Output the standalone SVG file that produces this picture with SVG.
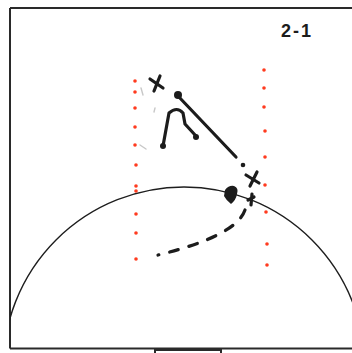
<svg xmlns="http://www.w3.org/2000/svg" width="352" height="353" viewBox="0 0 352 353">
<defs>
<style>
.frame{fill:none;stroke:#2a2a2a;stroke-width:2}
.court{fill:none;stroke:#1e1e1e;stroke-width:1.4}
.red{fill:#ff3b1f}
.ink{fill:none;stroke:#1c1c1c;stroke-width:3.2;stroke-linecap:round;stroke-linejoin:round}
.dot{fill:#1c1c1c}
.faint{fill:none;stroke:#c8c8c8;stroke-width:1.4;stroke-linecap:round}
.label{font-family:"Liberation Sans",Arial,sans-serif;font-size:18px;font-weight:bold;fill:#1c1c1c;letter-spacing:2px}
</style>
<clipPath id="box"><rect x="10" y="8" width="342" height="340.5"/></clipPath>
</defs>
<rect width="352" height="353" fill="#ffffff"/>
<g id="court">
<path class="frame" d="M10,8 H352 M10,8 V348.5 M10,348.5 H352"/>
<path class="frame" d="M155,353 V350 H221 V353"/>
<circle class="court" cx="184" cy="368" r="181" clip-path="url(#box)"/>
</g>
<g id="lane-left">
<circle class="red" cx="135" cy="81" r="1.8"/>
<circle class="red" cx="135" cy="92" r="1.8"/>
<circle class="red" cx="135" cy="108" r="1.8"/>
<circle class="red" cx="135" cy="127" r="1.8"/>
<circle class="red" cx="135" cy="145" r="1.8"/>
<circle class="red" cx="136" cy="165" r="1.8"/>
<circle class="red" cx="136" cy="186" r="1.8"/>
<circle class="red" cx="136" cy="191" r="1.8"/>
<circle class="red" cx="136" cy="214" r="1.8"/>
<circle class="red" cx="136" cy="233" r="1.8"/>
<circle class="red" cx="136" cy="259" r="1.8"/>
</g>
<g id="lane-right">
<circle class="red" cx="264" cy="70" r="1.8"/>
<circle class="red" cx="264" cy="88" r="1.8"/>
<circle class="red" cx="264" cy="107" r="1.8"/>
<circle class="red" cx="265" cy="131" r="1.8"/>
<circle class="red" cx="265" cy="157" r="1.8"/>
<circle class="red" cx="265" cy="185" r="1.8"/>
<circle class="red" cx="266" cy="212" r="1.8"/>
<circle class="red" cx="267" cy="244" r="1.8"/>
<circle class="red" cx="267" cy="265" r="1.8"/>
</g>
<g id="player-x1">
<path class="ink" d="M150,79 L163,88 M160,76 L154,91" stroke-width="2.8"/>
</g>
<g id="player-x2">
<path class="ink" d="M246,175 L259,183 M257,172 L250,186" stroke-width="2.8"/>
</g>
<g id="connectors">
<circle class="dot" cx="178" cy="95" r="4"/>
<path class="ink" d="M178,96 L236,157"/>
<circle class="dot" cx="243" cy="165" r="2.3"/>
<path class="ink" d="M163,146 L169,113 Q177,106 183,113 L185,124 L196,136"/>
<circle class="dot" cx="163" cy="146" r="3"/>
<circle class="dot" cx="196" cy="137" r="3"/>
<path class="dot" d="M225,190 Q229,185 234,186 Q239,188 237,194 Q236,200 231,204 Q226,200 224,196 Z"/>
<path class="ink" d="M252,194 L251,205 M248,200 L254,197" stroke-width="2"/>
<path class="ink" d="M245,210 Q236,236 158,255" stroke-width="4.5" stroke-dasharray="9 11"/>
</g>
<g id="marks">
<path class="faint" d="M141,88 L143,95"/>
<path class="faint" d="M155,108 L154,112"/>
<path class="faint" d="M140,145 L146,149"/>
</g>
<text class="label" x="281" y="37">2-1</text>
</svg>
